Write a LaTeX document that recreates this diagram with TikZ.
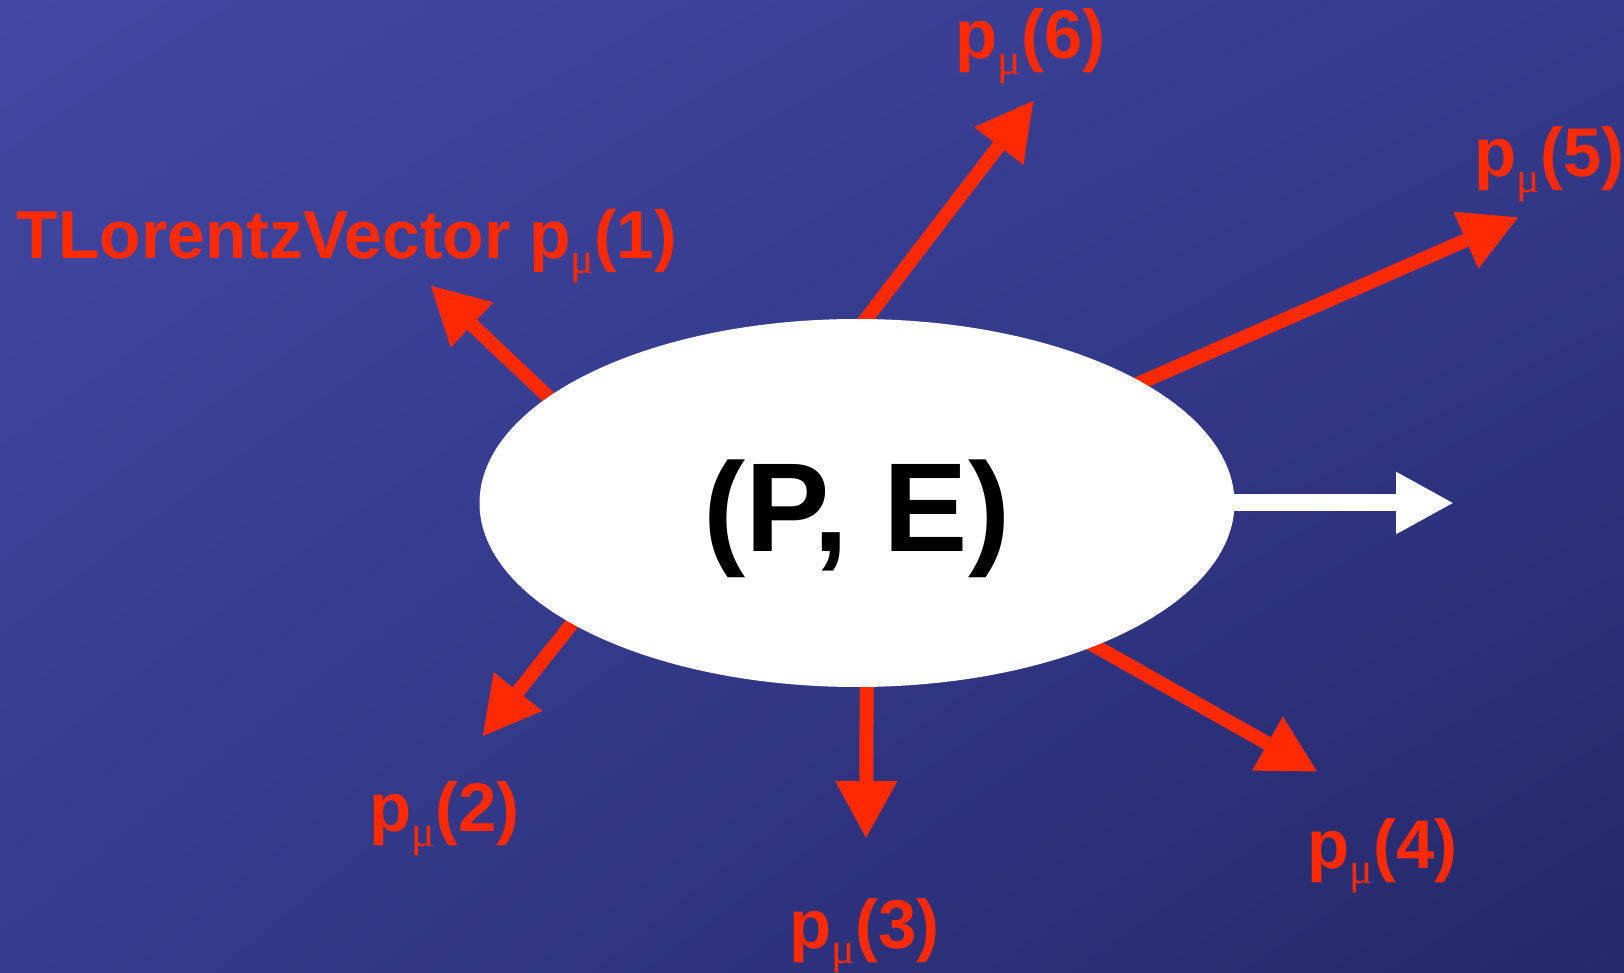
\documentclass[tikz,border=0pt]{standalone}
\usepackage{fontspec}
\setmainfont{Liberation Sans}
\newfontfamily\greekfont{Liberation Serif}
\usetikzlibrary{arrows.meta,shapes.geometric,shadings}

\definecolor{bgtl}{HTML}{4248A4}
\definecolor{bgtr}{HTML}{353A8C}
\definecolor{bgbl}{HTML}{363B8E}
\definecolor{bgbr}{HTML}{252869}
\definecolor{momred}{HTML}{FF2A00}

\pgfdeclarelayer{back}
\pgfdeclarelayer{under}
\pgfsetlayers{back,under,main}

\newcommand{\pmu}[1]{p\raisebox{-0.22em}{\fontsize{12.5pt}{12.5pt}\selectfont\mdseries\greekfont μ}(#1)}

\begin{document}
\begin{tikzpicture}[
  mom/.style={line width=1.4mm, draw=momred, shorten <=-3mm, -{Triangle[length=5.8mm, width=5.8mm]}},
  lbl/.style={text=momred, font=\fontsize{19.6}{23}\selectfont\bfseries, inner sep=0pt, anchor=base west}]

% Background
\useasboundingbox (0,0) rectangle (16.24,9.72);
\begin{pgfonlayer}{back}
\shade[upper left=bgtl, upper right=bgtr, lower left=bgbl, lower right=bgbr] (0,0) rectangle (16.24,9.72);
\end{pgfonlayer}

% Nodes
\node[ellipse, fill=white, minimum width=7.55cm, minimum height=3.68cm, inner sep=0pt] (pe) at (8.57,4.69) {};
\node[font=\fontsize{36}{42}\selectfont\bfseries] (petext) at ([yshift=-1.6mm]pe.center) {(P, E)};

\node[lbl, font=\fontsize{19.3}{23}\selectfont\bfseries] (l1) at (0.16,7.13) {TLorentzVector \pmu{1}};
\node[lbl] (l2) at (3.69,1.41) {\pmu{2}};
\node[lbl] (l3) at (7.89,0.24) {\pmu{3}};
\node[lbl] (l4) at (13.07,1.04) {\pmu{4}};
\node[lbl] (l5) at (14.74,7.95) {\pmu{5}};
\node[lbl] (l6) at (9.55,9.13) {\pmu{6}};

% Arrow tips
\coordinate (t1) at (4.30,6.87);
\coordinate (t2) at (4.82,2.35);
\coordinate (t3) at (8.66,1.33);
\coordinate (t4) at (13.18,2.00);
\coordinate (t5) at (15.19,7.55);
\coordinate (t6) at (10.34,8.72);
\coordinate (tp) at (14.54,4.69);

% Momenta (under the ellipse)
\begin{pgfonlayer}{under}
\draw[mom] (pe.161.5) -- (t1);
\draw[mom] (pe.203.3) -- (t2);
\draw[mom] (pe.-87.2) -- (t3);
\draw[mom] (pe.-31.5) -- (t4);
\draw[mom] (pe.23.5) -- (t5);
\draw[mom] (pe.87.5) -- (t6);

% Total momentum
\draw[line width=1.7mm, white, shorten <=-3mm, -{Triangle[length=5.8mm, width=5.8mm]}] (pe.east) -- (tp);
\end{pgfonlayer}

\end{tikzpicture}
\end{document}
